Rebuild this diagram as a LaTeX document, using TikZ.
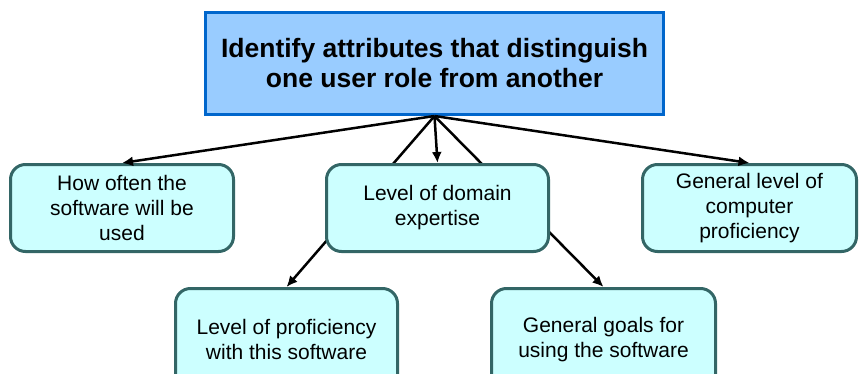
\documentclass[tikz,border=0pt]{standalone}
\usepackage{fontspec}
\setmainfont{Liberation Sans}
\usetikzlibrary{arrows.meta}

\definecolor{kopfblau}{HTML}{99CCFF}
\definecolor{kopfrand}{HTML}{0066CC}
\definecolor{kastenfill}{HTML}{CCFFFF}
\definecolor{kastenrand}{HTML}{336666}

\begin{document}
\begin{tikzpicture}[x=1pt, y=1pt,
    kopf/.style={draw=kopfrand, fill=kopfblau, line width=3pt,
        minimum width=458pt, minimum height=102pt, align=center,
        font=\fontsize{26.5}{30}\selectfont\bfseries},
    kasten/.style={draw=kastenrand, fill=kastenfill, line width=3pt,
        rounded corners=15pt, minimum height=87pt, align=center,
        font=\fontsize{21}{25}\selectfont},
    pfeil/.style={line width=2.5pt, -{Latex[length=11pt,width=10pt]}}]
    \clip (0,0) rectangle (859,373);

    % Oberer Kasten
    \node[kopf] (attr) at (434.5,309.5)
        {Identify attributes that distinguish\\one user role from another};

    % Erste Reihe
    \node[kasten, minimum width=223pt] (often) at (122,165)
        {How often the\\software will be\\used};
    \node[kasten, minimum width=214pt] (computer) at (749.5,165)
        {General level of\\computer\\proficiency};

    % Zweite Reihe, unten abgeschnitten
    \node[kasten, minimum width=222pt, minimum height=102pt] (proficiency) at (286.5,33.5)
        {Level of proficiency\\with this software};
    \node[kasten, minimum width=224pt, minimum height=102pt] (goals) at (603.5,33.5)
        {General goals for\\using the software};

    % Pfeile
    \draw[pfeil] (attr.south) -- (often.north);
    \draw[pfeil] (attr.south) -- (computer.north);
    \draw[pfeil] (attr.south) -- (proficiency.north);
    \draw[pfeil] (attr.south) -- (goals.north);

    % Mittlerer Kasten liegt ueber den Pfeilen
    \node[kasten, minimum width=222pt] (domain) at (437.5,165)
        {Level of domain\\expertise};
    \draw[pfeil] (attr.south) -- (domain.north);
\end{tikzpicture}
\end{document}
